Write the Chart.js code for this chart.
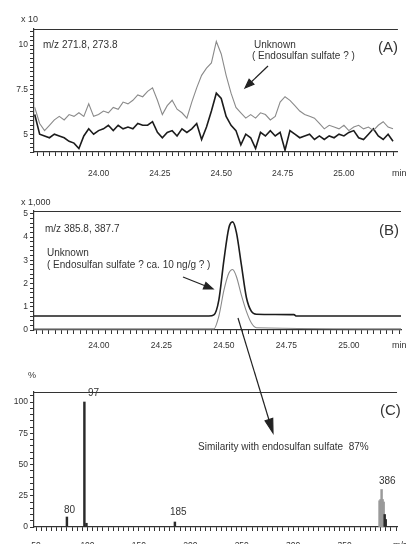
<!DOCTYPE html>
<html>
<head>
<meta charset="utf-8">
<script src="https://cdn.jsdelivr.net/npm/chart.js@4.4.1/dist/chart.umd.min.js"></script>
<style>
  html, body { margin: 0; padding: 0; background: #fff; }
  #wrap { position: relative; width: 406px; height: 544px; overflow: hidden;
    font-family: "Liberation Sans", Arial, sans-serif; color: #333; }
  canvas { position: absolute; left: 0; }
  .t { position: absolute; font-size: 10px; line-height: 10px; white-space: nowrap; }
  .s { font-size: 9px; }
  .big { font-size: 15px; line-height: 16px; }
  svg { position: absolute; left: 0; top: 0; }
</style>
</head>
<body>
<div id="wrap">
  <canvas id="chartA" width="406" height="190" style="top:0"></canvas>
  <canvas id="chartB" width="406" height="165" style="top:190px"></canvas>
  <canvas id="chartC" width="406" height="200" style="top:355px"></canvas>

  <div class="t s" style="left:21px;top:14px">x 10</div>
  <div class="t" style="left:43px;top:40px">m/z 271.8, 273.8</div>
  <div class="t" style="left:254px;top:40px">Unknown</div>
  <div class="t" style="left:252px;top:51px">( Endosulfan sulfate ? )</div>
  <div class="t big" style="left:378px;top:39px">(A)</div>
  <div class="t s" style="left:392px;top:168px">min</div>

  <div class="t s" style="left:21px;top:197px">x 1,000</div>
  <div class="t" style="left:45px;top:224px">m/z 385.8, 387.7</div>
  <div class="t" style="left:47px;top:248px">Unknown</div>
  <div class="t" style="left:47px;top:260px">( Endosulfan sulfate ? ca. 10 ng/g ? )</div>
  <div class="t big" style="left:379px;top:222px">(B)</div>
  <div class="t s" style="left:392px;top:340px">min</div>

  <div class="t s" style="left:28px;top:370px">%</div>
  <div class="t" style="left:88px;top:388px">97</div>
  <div class="t big" style="left:380px;top:402px">(C)</div>
  <div class="t" style="left:198px;top:442px">Similarity with endosulfan sulfate&nbsp; 87%</div>
  <div class="t" style="left:64px;top:505px">80</div>
  <div class="t" style="left:170px;top:507px">185</div>
  <div class="t" style="left:379px;top:476px">386</div>
  <div class="t s" style="left:393px;top:540px">m/z</div>

  <svg width="406" height="544">
    <g stroke="#222" stroke-width="1.2" fill="#222">
      <line x1="268" y1="66" x2="251.5" y2="81.8"/>
      <polygon points="245,88 253.9,84.3 249.1,79.3"/>
      <line x1="183" y1="277" x2="205" y2="285.7"/>
      <polygon points="213,289 203.3,288.9 205.9,282.5"/>
      <line x1="238" y1="318" x2="269" y2="420"/>
      <polygon points="273,433 265.1,420.8 272.7,418.4"/>
    </g>
  </svg>
</div>

<script>
const $ = (id) => document.getElementById(id);

const INK = '#333';
const FONT = { family: '"Liberation Sans", Arial, sans-serif', size: 8.5 };

// (A) m/z 271.8, 273.8 の抽出イオンクロマト
const timeA = [
  23.74, 23.76, 23.78, 23.80, 23.82, 23.84, 23.86, 23.88, 23.90, 23.92,
  23.94, 23.96, 23.98, 24.00, 24.02, 24.04, 24.06, 24.08, 24.10, 24.12,
  24.14, 24.16, 24.18, 24.20, 24.22, 24.24, 24.26, 24.28, 24.30, 24.32,
  24.34, 24.36, 24.38, 24.40, 24.42, 24.44, 24.46, 24.48, 24.50, 24.52,
  24.54, 24.56, 24.58, 24.60, 24.62, 24.64, 24.66, 24.68, 24.70, 24.72,
  24.74, 24.76, 24.78, 24.80, 24.82, 24.84, 24.86, 24.88, 24.90, 24.92,
  24.94, 24.96, 24.98, 25.00, 25.02, 25.04, 25.06, 25.08, 25.10, 25.12,
  25.14, 25.16, 25.18, 25.20,
];
const greyA = [
  6.5, 5.6, 5.2, 5.5, 5.8, 6.0, 5.8, 6.1, 6.0, 6.2,
  6.0, 6.7, 6.0, 6.1, 6.3, 6.2, 6.5, 6.4, 6.8, 6.7,
  6.9, 7.2, 7.1, 7.4, 7.6, 6.9, 6.1, 6.6, 6.9, 6.4,
  6.2, 5.9, 6.8, 7.6, 8.3, 8.7, 9.0, 10.2, 9.5, 8.3,
  7.3, 6.5, 6.2, 5.9, 6.1, 5.9, 6.2, 6.1, 5.8, 6.0,
  6.8, 7.1, 6.9, 6.6, 6.3, 6.1, 6.0, 5.9, 5.6, 5.3,
  5.5, 5.4, 5.3, 5.5, 5.2, 5.4, 5.5, 5.3, 5.4, 5.2,
  5.5, 5.7, 5.4, 5.3,
];
const blackA = [
  6.1, 5.0, 4.9, 4.8, 5.0, 4.9, 4.8, 4.6, 4.5, 4.2,
  4.9, 5.3, 5.0, 5.2, 5.3, 5.5, 5.2, 5.5, 5.3, 5.4,
  5.3, 5.6, 5.5, 5.5, 5.7, 5.1, 4.8, 5.1, 5.2, 4.9,
  5.3, 5.1, 5.3, 5.6, 4.7, 5.4, 6.3, 7.3, 7.0, 6.0,
  5.5, 5.2, 4.4, 5.0, 4.8, 4.2, 5.1, 4.9, 5.2, 4.9,
  5.1, 4.1, 5.2, 5.0, 4.8, 4.9, 5.0, 4.7, 4.9, 4.7,
  4.9, 4.8, 5.0, 4.9, 5.1, 5.2, 4.8, 4.7, 5.0, 5.3,
  4.9, 4.7, 5.0, 4.6,
];

// (B) m/z 385.8, 387.7
const timeBBlack = [23.74, 24.44, 24.46, 24.48, 24.50, 24.52, 24.535, 24.55, 24.57, 24.59, 24.61, 24.63, 24.78, 24.79, 25.21];
const blackB = [0.6, 0.6, 0.65, 1.3, 3.0, 4.4, 4.65, 4.2, 2.8, 1.4, 0.8, 0.68, 0.66, 0.6, 0.6];
const timeBGrey = [23.74, 24.46, 24.48, 24.50, 24.52, 24.535, 24.55, 24.57, 24.59, 24.61, 24.63, 25.21];
const greyB = [0.05, 0.05, 0.6, 1.7, 2.45, 2.6, 2.3, 1.5, 0.8, 0.3, 0.1, 0.05];

// (C) マススペクトル
const specMz = [80, 97, 99, 185, 384, 385, 386, 387, 388, 389, 390];
const specPct = [8, 100, 3, 4, 21, 22, 30, 22, 20, 10, 6];

// 目盛りラベル
const timeMajors = [24.00, 24.25, 24.50, 24.75, 25.00];
const yMajorsA = [5, 7.5, 10];
const yMajorsB = [0, 1, 2, 3, 4, 5];
const yMajorsC = [0, 25, 50, 75, 100];
const mzMajors = [50, 100, 150, 200, 250, 300, 350];

const frameTop = {
  id: 'frameTop',
  afterDraw(chart) {
    const { ctx, chartArea: a } = chart;
    ctx.save();
    ctx.strokeStyle = INK;
    ctx.lineWidth = 1.2;
    ctx.beginPath();
    ctx.moveTo(a.left, a.top + 0.5);
    ctx.lineTo(a.right, a.top + 0.5);
    ctx.stroke();
    ctx.restore();
  },
};

function majorLabel(list, fmt) {
  return (v) => {
    const hit = list.find((m) => Math.abs(m - v) < 1e-6);
    return hit === undefined ? '' : fmt(hit);
  };
}

function axis(o) {
  return {
    type: 'linear',
    min: o.min,
    max: o.max,
    offset: false,
    border: { color: INK, width: 1.2 },
    grid: { drawOnChartArea: false, drawTicks: true, tickLength: 4, color: INK, lineWidth: 1, offset: false },
    ticks: {
      stepSize: o.step,
      autoSkip: false,
      maxRotation: 0,
      minRotation: 0,
      includeBounds: false,
      padding: o.pad,
      color: INK,
      font: FONT,
      callback: majorLabel(o.majors, o.fmt),
    },
    afterFit: o.fit,
  };
}

function baseOptions(padTop, scales) {
  return {
    responsive: false,
    animation: false,
    layout: { padding: { top: padTop, left: 0, right: 0, bottom: 0 } },
    plugins: { legend: { display: false }, tooltip: { enabled: false } },
    elements: { point: { radius: 0 } },
    scales,
  };
}

const xy = (xs, ys) => xs.map((x, i) => ({ x, y: ys[i] }));
const fmtTime = (v) => v.toFixed(2);

new Chart($('chartA'), {
  type: 'line',
  data: {
    datasets: [
      { data: xy(timeA, greyA), borderColor: '#8a8a8a', borderWidth: 1.1, tension: 0 },
      { data: xy(timeA, blackA), borderColor: '#1c1c1c', borderWidth: 1.6, tension: 0 },
    ],
  },
  options: baseOptions(29, {
    x: axis({ min: 23.737, max: 25.22, step: 0.025, pad: 13, majors: timeMajors, fmt: fmtTime,
      fit: (s) => { s.height = 38; } }),
    y: axis({ min: 4, max: 10.9, step: 0.25, pad: 2, majors: yMajorsA, fmt: String,
      fit: (s) => { s.width = 34; } }),
  }),
  plugins: [frameTop],
});

new Chart($('chartB'), {
  type: 'line',
  data: {
    datasets: [
      { data: xy(timeBGrey, greyB), borderColor: '#8a8a8a', borderWidth: 1.1, cubicInterpolationMode: 'monotone' },
      { data: xy(timeBBlack, blackB), borderColor: '#1c1c1c', borderWidth: 1.6, cubicInterpolationMode: 'monotone' },
    ],
  },
  options: baseOptions(21, {
    x: axis({ min: 23.741, max: 25.208, step: 0.025, pad: 7, majors: timeMajors, fmt: fmtTime,
      fit: (s) => { s.height = 25; } }),
    y: axis({ min: 0, max: 5.12, step: 0.2, pad: 2, majors: yMajorsB, fmt: String,
      fit: (s) => { s.width = 34; } }),
  }),
  plugins: [frameTop],
});

new Chart($('chartC'), {
  type: 'bar',
  data: {
    datasets: [{
      data: xy(specMz, specPct),
      backgroundColor: specMz.map((m) => (m >= 384 && m <= 388 ? '#9a9a9a' : '#2a2a2a')),
      barThickness: 1.8,
      grouped: false,
    }],
  },
  options: baseOptions(37, {
    x: axis({ min: 48, max: 401, step: 5, pad: 10, majors: mzMajors, fmt: String,
      fit: (s) => { s.height = 28; } }),
    y: axis({ min: 0, max: 108, step: 5, pad: 2, majors: yMajorsC, fmt: String,
      fit: (s) => { s.width = 34; } }),
  }),
  plugins: [frameTop],
});
</script>
</body>
</html>
